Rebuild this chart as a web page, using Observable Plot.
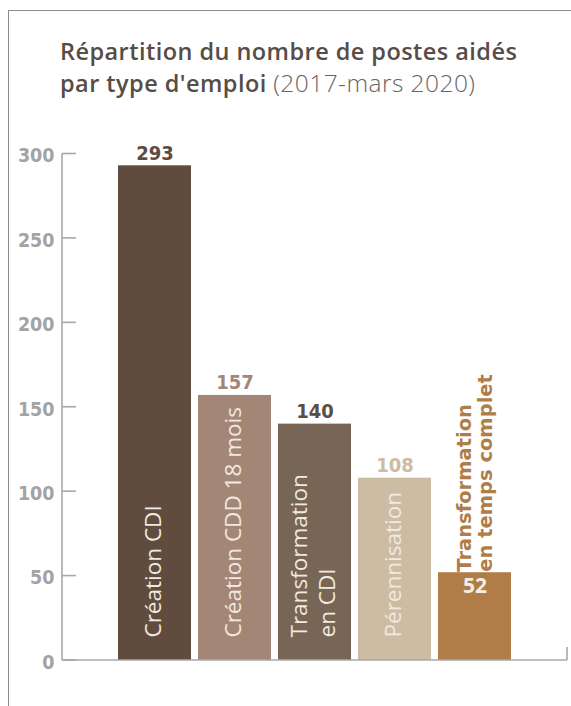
<!DOCTYPE html>
<html>
<head>
<meta charset="utf-8">
<script src="https://cdn.jsdelivr.net/npm/d3@7"></script>
<script src="https://cdn.jsdelivr.net/npm/@observablehq/plot@0.6"></script>
<style>
  body { margin: 0; background: #fff; }
  #wrap { position: relative; width: 571px; height: 706px; overflow: hidden; background: #fff; }
  #frame { position: absolute; left: 8px; top: 10px; right: -2px; bottom: -2px;
           border-top: 1.5px solid #958a84; border-left: 1.5px solid #958a84; }
  #title { position: absolute; left: 60px; top: 34.5px; font-family: "Open Sans", sans-serif;
           font-size: 23.5px; line-height: 32px; color: #574c46; font-weight: 600; white-space: nowrap;
           letter-spacing: 0.45px; }
  #title .light { font-weight: 300; color: #6b6360; font-size: 24.5px; }
  #chart { position: absolute; left: 0; top: 120px; }
</style>
</head>
<body>
<div id="wrap">
  <div id="frame"></div>
  <div id="title">Répartition du nombre de postes aidés<br>par type d'emploi <span class="light">(2017-mars 2020)</span></div>
  <div id="chart"></div>
</div>
<script>
// ---- data ----
const categories = ["Création CDI", "Création CDD 18 mois", "Transformation\nen CDI", "Pérennisation", "Transformation\nen temps complet"];
const values = [293, 157, 140, 108, 52];
const barColors = ["#5f4c3e", "#a48676", "#776555", "#cbbca3", "#b07d49"];
const valueColors = ["#5f4c3e", "#a48676", "#5e4d42", "#cbbca3", "#f4ede3"];
const categoryPlacement = ["inside", "inside", "inside", "inside", "above"];
const valuePlacement = ["above", "above", "above", "above", "inside"];
const yTicks = [0, 50, 100, 150, 200, 250, 300];

const data = categories.map((cat, i) => ({
  cat, value: values[i], color: barColors[i], valueColor: valueColors[i],
  catPlace: categoryPlacement[i], valPlace: valuePlacement[i]
}));

const axisColor = "#a8a8a8";
const condFont = "DejaVu Sans Condensed, DejaVu Sans, sans-serif";
const wideFont = "DejaVu Sans, sans-serif";
const humanFont = "Open Sans, sans-serif";

const axisMark = (index, scales, vals, dims) => {
  const g = d3.create("svg:g").attr("stroke", axisColor).attr("stroke-width", 1.6).attr("fill", "none");
  const x0 = dims.marginLeft;
  const xEnd = dims.width - dims.marginRight;
  const yTop = scales.y(d3.max(yTicks));
  const yBase = scales.y(0);
  g.append("line").attr("x1", x0).attr("x2", x0).attr("y1", yTop).attr("y2", yBase);
  for (const t of yTicks) {
    g.append("line").attr("x1", x0).attr("x2", x0 + 14).attr("y1", scales.y(t)).attr("y2", scales.y(t));
  }
  g.append("line").attr("x1", x0).attr("x2", xEnd).attr("y1", yBase).attr("y2", yBase);
  g.append("line").attr("x1", xEnd).attr("x2", xEnd).attr("y1", yBase).attr("y2", yBase - 13);
  return g.node();
};

const chart = Plot.plot({
  width: 571,
  height: 586,
  marginLeft: 62,
  marginRight: 4,
  marginTop: 33.5,
  marginBottom: 46,
  style: { background: "transparent", overflow: "visible" },
  x: { domain: categories, range: [113, 517], paddingInner: 0.084, paddingOuter: 0.042, axis: null },
  y: { domain: [0, 300], axis: null },
  color: { type: "identity" },
  marks: [
    Plot.barY(data, { x: "cat", y: "value", fill: "color" }),
    axisMark,
    Plot.text(yTicks, {
      y: d => d, text: d => String(d), frameAnchor: "left", textAnchor: "end",
      dx: -8, dy: 2, fill: "#a3a3a3", fontFamily: condFont, fontWeight: "bold", fontSize: 19.5
    }),
    Plot.text(data.filter(d => d.valPlace === "above"), {
      x: "cat", y: "value", text: d => String(d.value), lineAnchor: "bottom", dy: -6,
      fill: "valueColor", fontFamily: condFont, fontWeight: "bold", fontSize: 20
    }),
    Plot.text(data.filter(d => d.valPlace === "inside"), {
      x: "cat", y: "value", text: d => String(d.value), lineAnchor: "top", dy: 5,
      fill: "valueColor", fontFamily: humanFont, fontWeight: "bold", fontSize: 21
    }),
    Plot.text(data.filter(d => d.catPlace === "inside"), {
      x: "cat", y: () => 0, text: "cat", rotate: -90, textAnchor: "start", lineAnchor: "middle",
      dy: -23, dx: -3, lineHeight: 1.25,
      fill: "#f1e9df", fontFamily: humanFont, fontSize: 22.5
    }),
    Plot.text(data.filter(d => d.catPlace === "above"), {
      x: "cat", y: "value", text: "cat", rotate: -90, textAnchor: "start", lineAnchor: "middle",
      dy: -1, lineHeight: 1.08,
      fill: "color", fontFamily: wideFont, fontWeight: "bold", fontSize: 19.5
    })
  ]
});
document.getElementById("chart").appendChild(chart);
</script>
</body>
</html>
